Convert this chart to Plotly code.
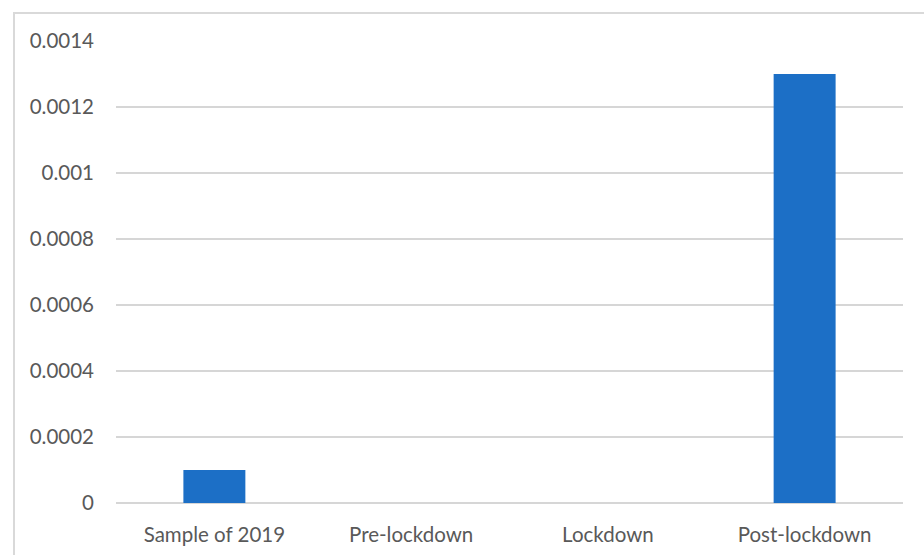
import plotly.graph_objects as go

# Periods and their measured values
categories = ["Sample of 2019", "Pre-lockdown", "Lockdown", "Post-lockdown"]
values = [0.0001, 0.0, 0.0, 0.0013]
tick_vals = [0, 0.0002, 0.0004, 0.0006, 0.0008, 0.001, 0.0012, 0.0014]
tick_text = ["0", "0.0002", "0.0004", "0.0006", "0.0008", "0.001", "0.0012", "0.0014"]

W, H = 924, 555
L, R, T, B = 116, 21, 41, 52

fig = go.Figure(
    go.Bar(
        x=categories,
        y=values,
        marker=dict(color="#1c6fc6", line=dict(width=0)),
    )
)

font = dict(family="Lato, Carlito, Calibri, sans-serif", size=20.5, color="#595959")

fig.update_layout(
    width=W,
    height=H,
    margin=dict(l=L, r=R, t=T, b=B),
    paper_bgcolor="white",
    plot_bgcolor="white",
    bargap=0.685,
    showlegend=False,
    font=font,
    xaxis=dict(
        showgrid=False,
        showline=False,
        zeroline=False,
        ticks="",
        tickfont=font,
        ticklabelstandoff=17,
        automargin=False,
    ),
    yaxis=dict(
        range=[0, 0.0014],
        tickvals=tick_vals,
        ticktext=tick_text,
        showgrid=True,
        gridcolor="#d6d6d6",
        gridwidth=1.8,
        zeroline=True,
        zerolinecolor="#d6d6d6",
        zerolinewidth=1.8,
        showline=False,
        ticks="",
        tickfont=font,
        ticklabelstandoff=21,
        automargin=False,
    ),
)

# Light frame around the chart area (right and bottom edges run past the page)
pw = W - L - R
ph = H - T - B
fig.add_shape(
    type="rect",
    xref="paper",
    yref="paper",
    x0=(14 - L) / pw,
    x1=(W + 10 - L) / pw,
    y0=-(B + 10) / ph,
    y1=1 + (T - 13) / ph,
    line=dict(color="#d9d9d9", width=2),
    fillcolor="rgba(0,0,0,0)",
    layer="below",
)

fig.write_html("out.html")
